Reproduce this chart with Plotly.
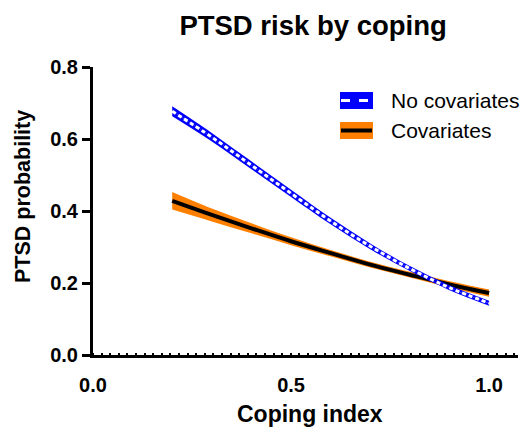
import plotly.graph_objects as go

# Coping index values
coping = [0.2, 0.3, 0.4, 0.5, 0.6, 0.7, 0.8, 0.9, 1.0]

# No covariates: estimate and confidence band
nocov_mid = [0.677, 0.605, 0.527, 0.449, 0.372, 0.302, 0.240, 0.187, 0.144]
nocov_hi = [0.691, 0.617, 0.538, 0.459, 0.381, 0.310, 0.247, 0.194, 0.151]
nocov_lo = [0.663, 0.593, 0.516, 0.439, 0.363, 0.294, 0.233, 0.180, 0.137]

# Covariates: estimate and confidence band
cov_mid = [0.428, 0.389, 0.352, 0.316, 0.283, 0.251, 0.223, 0.196, 0.172]
cov_hi = [0.453, 0.407, 0.366, 0.327, 0.292, 0.259, 0.231, 0.205, 0.182]
cov_lo = [0.404, 0.371, 0.338, 0.305, 0.274, 0.243, 0.215, 0.187, 0.162]

series_names = ["No covariates", "Covariates"]

x_ticks = [0.0, 0.5, 1.0]
x_ticklabels = ["0.0", "0.5", "1.0"]
y_ticks = [0.0, 0.2, 0.4, 0.6, 0.8]
y_ticklabels = ["0.0", "0.2", "0.4", "0.6", "0.8"]

FONT = "Arial, Liberation Sans, sans-serif"
BLUE = "#0000FF"
ORANGE = "#FF8000"

W, H = 528, 429
ML, MR, MT, MB = 93, 10, 67, 74
PW, PH = W - ML - MR, H - MT - MB

fig = go.Figure()


def add_band(name, mid, hi, lo, fillcolor, line):
    fig.add_trace(go.Scatter(x=coping, y=hi, mode="lines", line=dict(width=0, shape="spline"),
                             showlegend=False, hoverinfo="skip"))
    fig.add_trace(go.Scatter(x=coping, y=mid, mode="lines", name=name, fill="tonexty",
                             fillcolor=fillcolor, line=dict(shape="spline", **line),
                             showlegend=False))
    fig.add_trace(go.Scatter(x=coping, y=lo, mode="lines", line=dict(width=0, shape="spline"),
                             fill="tonexty", fillcolor=fillcolor,
                             showlegend=False, hoverinfo="skip"))


add_band(series_names[1], cov_mid, cov_hi, cov_lo, ORANGE, dict(color="black", width=4))
add_band(series_names[0], nocov_mid, nocov_hi, nocov_lo, BLUE,
         dict(color="white", width=3, dash="4px,3px"))


# layout decorations positioned in pixel-derived paper coords
def px(xp):
    return (xp - ML) / PW


def py(yp):
    return (H - MB - yp) / PH


legend_rows = [
    (series_names[0], BLUE, "white", 3, "dash", 100.5),
    (series_names[1], ORANGE, "black", 4, "solid", 130.5),
]
shapes = []
annotations = []
for name, fillc, linec, lw, dash, cy in legend_rows:
    shapes.append(dict(type="rect", xref="paper", yref="paper",
                       x0=px(340), x1=px(373), y0=py(cy - 8.5), y1=py(cy + 8.5),
                       fillcolor=fillc, line=dict(width=0)))
    shapes.append(dict(type="line", xref="paper", yref="paper",
                       x0=px(341), x1=px(372), y0=py(cy), y1=py(cy),
                       line=dict(color=linec, width=lw, dash=dash)))
    annotations.append(dict(text=name, xref="paper", yref="paper", x=px(389), y=py(cy),
                            xanchor="left", yanchor="middle", showarrow=False,
                            font=dict(size=21, family=FONT, color="black")))

# axis titles
annotations.append(dict(text="<b>Coping index</b>", xref="paper", yref="paper",
                        x=px(310), y=py(414), xanchor="center", yanchor="middle",
                        showarrow=False, font=dict(size=23, family=FONT, color="black")))
annotations.append(dict(text="<b>PTSD probability</b>", xref="paper", yref="paper",
                        x=px(23), y=py(197), xanchor="center", yanchor="middle",
                        textangle=-90, showarrow=False,
                        font=dict(size=21.5, family=FONT, color="black")))

fig.update_layout(
    width=W, height=H,
    margin=dict(l=ML, r=MR, t=MT, b=MB, autoexpand=False),
    paper_bgcolor="white", plot_bgcolor="white",
    font=dict(family=FONT, color="black"),
    title=dict(text="<b>PTSD risk by coping</b>", x=0.593, xanchor="center",
               y=0.942, yanchor="middle", font=dict(size=27.5, family=FONT)),
    showlegend=False,
    shapes=shapes,
    annotations=annotations,
)

fig.update_xaxes(
    range=[0, 1.073], tickvals=x_ticks, ticktext=["<b>%s</b>" % t for t in x_ticklabels],
    showgrid=False, zeroline=False, showline=True, linecolor="black", linewidth=3,
    ticks="", tickfont=dict(size=20, family=FONT), ticklabelstandoff=10, automargin=False,
    minor=dict(ticks="inside", ticklen=2, tickwidth=2, tickcolor="black", dtick=0.0217, tick0=0),
)
fig.update_yaxes(
    range=[0, 0.8], tickvals=y_ticks, ticktext=["<b>%s</b>" % t for t in y_ticklabels],
    showgrid=False, zeroline=False, showline=True, linecolor="black", linewidth=3,
    ticks="outside", ticklen=8, tickwidth=3, tickcolor="black", automargin=False,
    tickfont=dict(size=20, family=FONT),
)

fig.write_html("out.html")
